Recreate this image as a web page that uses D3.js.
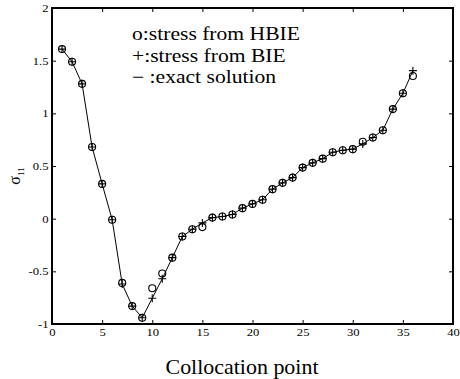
<!DOCTYPE html>
<html>
<head>
<meta charset="utf-8">
<script src="https://cdn.jsdelivr.net/npm/d3@7"></script>
<style>
  body { margin: 0; background: #fff; }
  svg { display: block; }
  svg text { font-family: "Liberation Serif", "Times New Roman", Times, serif; }
</style>
</head>
<body>
<svg id="chart" width="460" height="379"></svg>
<script>
// collocation points 1..36
const points = d3.range(1, 37)

// sigma_11 from HBIE (circles)
const hbie = [1.61, 1.49, 1.28, 0.68, 0.33, -0.01, -0.61, -0.83, -0.94, -0.66,
  -0.52, -0.37, -0.17, -0.10, -0.08, 0.01, 0.02, 0.04, 0.10, 0.14,
  0.18, 0.28, 0.34, 0.39, 0.485, 0.53, 0.57, 0.63, 0.65, 0.66,
  0.73, 0.77, 0.84, 1.04, 1.19, 1.355]

// sigma_11 from BIE (plus signs)
const bie = [1.61, 1.49, 1.28, 0.68, 0.33, -0.01, -0.62, -0.83, -0.94, -0.755,
  -0.57, -0.37, -0.17, -0.10, -0.04, 0.01, 0.02, 0.04, 0.10, 0.14,
  0.18, 0.28, 0.34, 0.39, 0.485, 0.53, 0.57, 0.63, 0.65, 0.66,
  0.71, 0.77, 0.84, 1.04, 1.19, 1.405]

// exact solution (line)
const exact = [1.61, 1.49, 1.28, 0.68, 0.33, -0.01, -0.62, -0.83, -0.94, -0.755,
  -0.57, -0.37, -0.17, -0.10, -0.04, 0.01, 0.02, 0.04, 0.10, 0.14,
  0.18, 0.28, 0.34, 0.39, 0.485, 0.53, 0.57, 0.63, 0.65, 0.66,
  0.71, 0.77, 0.84, 1.04, 1.19, 1.405]

const xTicks = [0, 5, 10, 15, 20, 25, 30, 35, 40]
const yTicks = [-1, -0.5, 0, 0.5, 1, 1.5, 2]
const legendLines = ['o:stress from HBIE', '+:stress from BIE', '\u2212 :exact solution']

const margin = { left: 52, right: 7, top: 8, bottom: 55 }
const width = 460, height = 379

const x = d3.scaleLinear().domain([0, 40]).range([margin.left, width - margin.right])
const y = d3.scaleLinear().domain([-1, 2]).range([height - margin.bottom, margin.top])

const svg = d3.select('#chart')

// ticks, pointing into the frame on all four sides
const sx = 1.2 // tick labels look a bit wide in the original
const tickLen = 4

const axisB = svg.append('g')
  .attr('transform', `translate(0,${y(-1)})`)
  .call(d3.axisBottom(x).tickValues(xTicks).tickSize(-tickLen).tickPadding(0).tickFormat(d => String(d)))
axisB.select('.domain').remove()
axisB.selectAll('.tick text')
  .attr('y', 12).attr('dy', null)
  .attr('font-size', 10.5)
  .attr('transform', `scale(${sx},1)`)

const axisT = svg.append('g')
  .attr('transform', `translate(0,${y(2)})`)
  .call(d3.axisTop(x).tickValues(xTicks).tickSize(-tickLen).tickFormat(''))
axisT.select('.domain').remove()

const axisL = svg.append('g')
  .attr('transform', `translate(${x(0)},0)`)
  .call(d3.axisLeft(y).tickValues(yTicks).tickSize(-tickLen).tickFormat(d => String(d)))
axisL.select('.domain').remove()
axisL.selectAll('.tick text')
  .attr('x', -3.5 / sx).attr('dy', '0.32em')
  .attr('font-size', 10.5)
  .attr('transform', `scale(${sx},1)`)

const axisR = svg.append('g')
  .attr('transform', `translate(${x(40)},0)`)
  .call(d3.axisRight(y).tickValues(yTicks).tickSize(-tickLen).tickFormat(''))
axisR.select('.domain').remove()

svg.selectAll('.tick line').attr('stroke', '#000').attr('stroke-width', 1)

// frame
svg.append('rect')
  .attr('x', x(0)).attr('y', y(2))
  .attr('width', x(40) - x(0)).attr('height', y(-1) - y(2))
  .attr('fill', 'none').attr('stroke', '#000').attr('stroke-width', 2)

// exact solution line
const line = d3.line().x((d, i) => x(points[i])).y(d => y(d))
svg.append('path')
  .datum(exact)
  .attr('d', line)
  .attr('fill', 'none')
  .attr('stroke', '#000')
  .attr('stroke-width', 1)

// HBIE circles
svg.append('g').selectAll('circle')
  .data(hbie)
  .join('circle')
  .attr('cx', (d, i) => x(points[i]))
  .attr('cy', d => y(d))
  .attr('r', 3.5)
  .attr('fill', 'none')
  .attr('stroke', '#000')
  .attr('stroke-width', 1.1)

// BIE plus signs
const plusSize = 4
svg.append('g').selectAll('path')
  .data(bie)
  .join('path')
  .attr('d', (d, i) => {
    const cx = x(points[i]), cy = y(d)
    return `M${cx - plusSize},${cy}H${cx + plusSize}M${cx},${cy - plusSize}V${cy + plusSize}`
  })
  .attr('stroke', '#000')
  .attr('stroke-width', 1.1)

// legend text inside the plot, stretched a little to the width of the original
const legendBase = [40, 62, 83]
svg.append('g').selectAll('text')
  .data(legendLines)
  .join('text')
  .attr('transform', (d, i) => `translate(132,${legendBase[i]}) scale(1.2,1)`)
  .attr('font-size', 18)
  .text(d => d)

// axis titles
svg.append('text')
  .attr('x', 242)
  .attr('y', 374)
  .attr('text-anchor', 'middle')
  .attr('font-size', 21)
  .attr('textLength', 153)
  .attr('lengthAdjust', 'spacingAndGlyphs')
  .text('Collocation point')

const ylab = svg.append('text')
  .attr('transform', 'translate(20,176) rotate(-90)')
  .attr('text-anchor', 'middle')
  .attr('font-size', 16)
ylab.append('tspan').text('\u03c3')
ylab.append('tspan').attr('font-size', 9).attr('dy', 4).text('11')
</script>
</body>
</html>
